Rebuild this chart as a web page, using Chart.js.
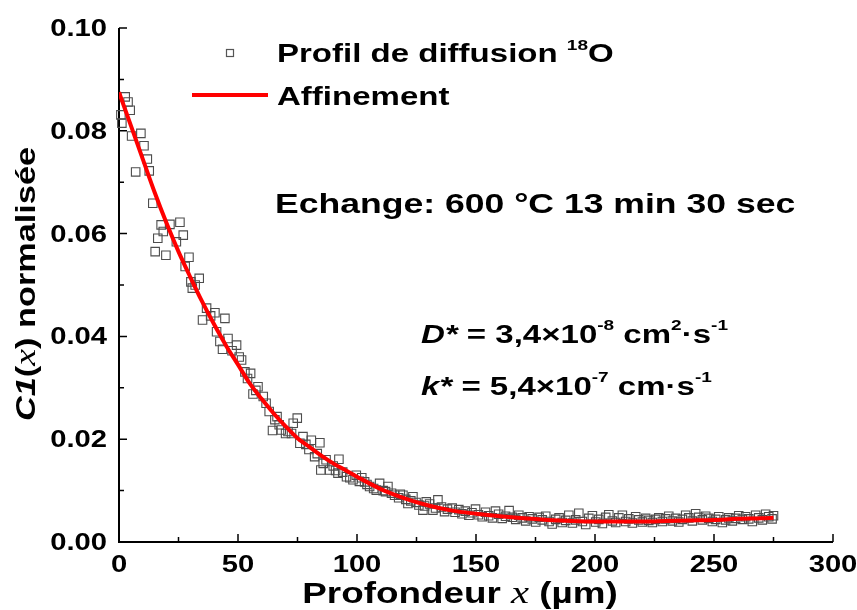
<!DOCTYPE html>
<html>
<head>
<meta charset="utf-8">
<script src="https://cdn.jsdelivr.net/npm/chart.js@4.4.1/dist/chart.umd.min.js"></script>
<style>
  body { margin: 0; background: #fff; }
  canvas { display: block; }
</style>
</head>
<body>
<canvas id="chart" width="857" height="610"></canvas>
<script>
// measured 18O profile (depth in µm, normalised C1)
const depthX = [
  0.8, 1.2, 2.6, 3.8, 4.7, 5.3, 7.0, 9.2, 10.5, 11.9, 12.7, 14.2, 15.2, 16.3, 17.7, 18.6,
  19.7, 21.4, 24.1, 25.6, 27.0, 27.8, 29.4, 30.2, 30.8, 32.0, 33.7, 35.1, 36.8, 38.5, 40.3,
  41.0, 42.4, 43.5, 44.5, 45.8, 47.5, 49.4, 50.5, 51.5, 52.9, 54.0, 55.3, 56.3, 57.5, 58.4,
  60.6, 61.8, 63.1, 64.5, 65.5, 66.4, 67.3, 68.2, 70.0, 71.0, 72.5, 73.2, 74.9, 76.0, 77.3,
  78.5, 79.8, 80.8, 82.2, 83.3, 84.4, 84.8, 85.8, 87.0, 88.5, 90.0, 91.0, 92.0, 92.4, 94.0,
  95.6, 97.0, 98.3, 99.7, 101.0, 102.0, 103.2, 104.2, 105.3, 107.0, 108.1, 109.5, 111.0,
  112.0, 113.0, 114.5, 115.8, 117.5, 118.2, 119.3, 120.5, 121.4, 122.6, 123.5, 124.8, 126.0,
  127.7, 128.4, 129.1, 130.5, 131.9, 133.0, 134.0, 135.5, 136.8, 138.0,
  140.0, 141.2, 142.8, 144.1, 145.5, 147.0, 148.3, 149.8, 151.0, 152.6, 154.0, 155.3, 156.9,
  158.2, 159.5, 161.0, 162.4, 163.9, 165.2, 166.7, 168.0, 169.4, 170.9, 172.3, 173.6, 175.1,
  176.5, 177.8, 179.3, 180.7, 182.0, 183.5, 184.9, 186.2, 187.7, 189.0, 190.5, 191.9, 193.2,
  194.7, 196.1, 197.4, 198.9, 200.3, 201.6, 203.1, 204.5, 205.8, 207.3, 208.7, 210.0, 211.5,
  212.9, 214.2, 215.7, 217.1, 218.4, 219.9, 221.3, 222.6, 224.1, 225.5, 226.8, 228.3, 229.7,
  231.0, 232.5, 233.9, 235.2, 236.7, 238.1, 239.4, 240.9, 242.3, 243.6, 245.1, 246.5, 247.8,
  249.3, 250.7, 252.0, 253.5, 254.9, 256.2, 257.7, 259.1, 260.4, 261.9, 263.3, 264.6, 266.1,
  267.5, 268.8, 270.3, 271.7, 273.0, 274.4, 275.0
];
const conc = [
  0.0831, 0.0815, 0.0866, 0.0856, 0.0840, 0.0790, 0.0720, 0.0795, 0.0771, 0.0745, 0.0722,
  0.0659, 0.0565, 0.0591, 0.0617, 0.0604, 0.0558, 0.0618, 0.0584, 0.0622, 0.0597, 0.0536,
  0.0554, 0.0506, 0.0494, 0.0500, 0.0513, 0.0432, 0.0455, 0.0440, 0.0446, 0.0409, 0.0390,
  0.0375, 0.0435, 0.0396, 0.0372, 0.0383, 0.0360, 0.0354, 0.0331, 0.0318, 0.0328, 0.0288,
  0.0295, 0.0302, 0.0283, 0.0270, 0.0254, 0.0217, 0.0238, 0.0244, 0.0228, 0.0218, 0.0211,
  0.0215, 0.0211, 0.0231, 0.0241, 0.0192, 0.0205, 0.0190, 0.0180, 0.0198, 0.0166, 0.0172,
  0.0193, 0.0140, 0.0153, 0.0160, 0.0140, 0.0148, 0.0139, 0.0134, 0.0161, 0.0136, 0.0127,
  0.0125, 0.0121, 0.0130, 0.0118, 0.0125, 0.0117, 0.0112, 0.0108, 0.0104, 0.0101, 0.0114,
  0.0100, 0.0098, 0.0108, 0.0095, 0.0091, 0.0086, 0.0093, 0.0091, 0.0083, 0.0075, 0.0080,
  0.0088, 0.0077, 0.0072, 0.0062, 0.0070, 0.0078, 0.0074, 0.0062, 0.0066, 0.0082, 0.0068,
  0.0059, 0.0064,
  0.0066, 0.0058, 0.0063, 0.0055, 0.0060, 0.0052, 0.0057, 0.0064, 0.0053, 0.0049, 0.0058,
  0.0051, 0.0047, 0.0060, 0.0054, 0.0046, 0.0050, 0.0061, 0.0048, 0.0044, 0.0052, 0.0047,
  0.0041, 0.0049, 0.0045, 0.0039, 0.0048, 0.0043, 0.0050, 0.0040, 0.0035, 0.0044, 0.0047,
  0.0038, 0.0042, 0.0052, 0.0037, 0.0043, 0.0056, 0.0040, 0.0034, 0.0046, 0.0051, 0.0039,
  0.0044, 0.0036, 0.0048, 0.0053, 0.0041, 0.0038, 0.0047, 0.0052, 0.0040, 0.0045, 0.0037,
  0.0049, 0.0043, 0.0039, 0.0046, 0.0042, 0.0038, 0.0044, 0.0047, 0.0040, 0.0045, 0.0050,
  0.0041, 0.0046, 0.0039, 0.0044, 0.0052, 0.0047, 0.0041, 0.0055, 0.0048, 0.0043, 0.0050,
  0.0046, 0.0040, 0.0044, 0.0049, 0.0038, 0.0043, 0.0047, 0.0041, 0.0046, 0.0051, 0.0044,
  0.0049, 0.0045, 0.0040, 0.0052, 0.0047, 0.0043, 0.0054, 0.0049, 0.0045, 0.0051
];

// fitted curve (Affinement)
const fitX = [0, 5, 10, 15, 20, 25, 30, 35, 40, 45, 50, 55, 60, 65, 70, 75, 80, 85, 90, 95,
  100, 110, 120, 130, 140, 150, 160, 170, 180, 190, 200, 210, 220, 230, 240, 250, 260, 270, 275];
const fitY = [0.0875, 0.0810, 0.0745, 0.0680, 0.0620, 0.0565, 0.0515, 0.0467, 0.0423, 0.0382,
  0.0345, 0.0308, 0.0278, 0.0250, 0.0225, 0.0202, 0.0185, 0.0168, 0.0153, 0.0140,
  0.0127, 0.0103, 0.0085, 0.0071, 0.0061, 0.0055, 0.0050, 0.0046, 0.0043, 0.0041,
  0.0040, 0.0040, 0.0040, 0.0041, 0.0042, 0.0043, 0.0045, 0.0046, 0.0047];

const xTicks = [0, 50, 100, 150, 200, 250, 300];
const yTicks = [0.00, 0.02, 0.04, 0.06, 0.08, 0.10];
const xMinor = [25, 75, 125, 175, 225, 275];
const yMinor = [0.01, 0.03, 0.05, 0.07, 0.09];

const SANS = '"Liberation Sans", Arial, sans-serif';
const SERIF = '"Liberation Serif", "Times New Roman", serif';
const STRETCH = 1.27;

// draws a list of styled text pieces one after another, stretched horizontally
function richText(ctx, x, y, parts, align) {
  ctx.save();
  ctx.translate(x, y);
  ctx.scale(STRETCH, 1);
  let w = 0;
  parts.forEach(p => { ctx.font = p.font; w += ctx.measureText(p.t).width; });
  let cx = 0;
  if (align === 'center') cx = -w / 2;
  if (align === 'right') cx = -w;
  ctx.textBaseline = 'alphabetic';
  ctx.textAlign = 'left';
  parts.forEach(p => {
    ctx.font = p.font;
    ctx.fillStyle = p.color || '#000';
    ctx.fillText(p.t, cx, p.dy || 0);
    cx += ctx.measureText(p.t).width;
  });
  ctx.restore();
}

const axesPlugin = {
  id: 'axesPlugin',
  beforeDatasetsDraw(chart) {
    const ctx = chart.ctx;
    const xs = chart.scales.x, ys = chart.scales.y;
    const a = chart.chartArea;
    ctx.save();
    ctx.strokeStyle = '#000';
    ctx.lineWidth = 2;
    ctx.beginPath();
    ctx.moveTo(a.left, a.top);
    ctx.lineTo(a.left, a.bottom);
    ctx.lineTo(a.right, a.bottom);
    ctx.stroke();
    ctx.lineWidth = 1.5;
    ctx.beginPath();
    xTicks.forEach(v => { const p = xs.getPixelForValue(v); ctx.moveTo(p, a.bottom); ctx.lineTo(p, a.bottom - 8); });
    xMinor.forEach(v => { const p = xs.getPixelForValue(v); ctx.moveTo(p, a.bottom); ctx.lineTo(p, a.bottom - 5); });
    yTicks.forEach(v => { const p = ys.getPixelForValue(v); ctx.moveTo(a.left, p); ctx.lineTo(a.left + 8, p); });
    yMinor.forEach(v => { const p = ys.getPixelForValue(v); ctx.moveTo(a.left, p); ctx.lineTo(a.left + 5, p); });
    ctx.stroke();
    ctx.restore();

    const tickFont = 'bold 23px ' + SANS;
    xTicks.forEach(v => {
      richText(ctx, xs.getPixelForValue(v), a.bottom + 30, [{ t: String(v), font: tickFont }], 'center');
    });
    yTicks.forEach(v => {
      richText(ctx, a.left - 12, ys.getPixelForValue(v) + 8, [{ t: v.toFixed(2), font: tickFont }], 'right');
    });

    // axis titles
    richText(ctx, 460, 603, [
      { t: 'Profondeur ', font: 'bold 29px ' + SANS },
      { t: 'x', font: 'italic 32px ' + SERIF },
      { t: ' (µm)', font: 'bold 29px ' + SANS }
    ], 'center');

    ctx.save();
    ctx.translate(35, 284);
    ctx.rotate(-Math.PI / 2);
    richText(ctx, 0, 0, [
      { t: 'C', font: 'bold italic 27px ' + SANS },
      { t: '1', font: 'bold italic 27px ' + SANS },
      { t: '(', font: 'bold 27px ' + SANS },
      { t: 'x', font: 'italic 30px ' + SERIF },
      { t: ')', font: 'bold 27px ' + SANS },
      { t: ' normalisée', font: 'bold 27px ' + SANS }
    ], 'center');
    ctx.restore();
  },
  afterDraw(chart) {
    const ctx = chart.ctx;
    // legend
    ctx.save();
    ctx.strokeStyle = '#555';
    ctx.lineWidth = 1.2;
    ctx.strokeRect(226.5, 49.5, 7, 7);
    ctx.strokeStyle = '#ff0000';
    ctx.lineWidth = 4;
    ctx.beginPath();
    ctx.moveTo(192, 95);
    ctx.lineTo(268, 95);
    ctx.stroke();
    ctx.restore();
    richText(ctx, 277, 62, [
      { t: 'Profil de diffusion ', font: 'bold 26px ' + SANS },
      { t: '18', font: 'bold 15px ' + SANS, dy: -12 },
      { t: 'O', font: 'bold 26px ' + SANS }
    ]);
    richText(ctx, 277, 105, [{ t: 'Affinement', font: 'bold 26px ' + SANS }]);

    richText(ctx, 275, 213, [{ t: 'Echange: 600 °C 13 min 30 sec', font: 'bold 28px ' + SANS }]);

    const f = 'bold 26px ' + SANS, fi = 'bold italic 26px ' + SANS, fs = 'bold 15px ' + SANS;
    richText(ctx, 421, 343, [
      { t: 'D*', font: fi }, { t: ' = 3,4×10', font: f }, { t: '-8', font: fs, dy: -13 },
      { t: ' cm', font: f }, { t: '2', font: fs, dy: -13 }, { t: '·s', font: f }, { t: '-1', font: fs, dy: -13 }
    ]);
    richText(ctx, 421, 395, [
      { t: 'k*', font: fi }, { t: ' = 5,4×10', font: f }, { t: '-7', font: fs, dy: -13 },
      { t: ' cm·s', font: f }, { t: '-1', font: fs, dy: -13 }
    ]);
  }
};

new Chart(document.getElementById('chart'), {
  type: 'scatter',
  data: {
    datasets: [
      {
        label: 'Affinement',
        type: 'line',
        data: fitX.map((x, i) => ({ x: x, y: fitY[i] })),
        borderColor: '#ff0000',
        borderWidth: 4,
        pointRadius: 0,
        cubicInterpolationMode: 'monotone',
        fill: false,
        order: 0
      },
      {
        label: 'Profil de diffusion 18O',
        data: depthX.map((x, i) => ({ x: x, y: conc[i] })),
        pointStyle: 'rect',
        pointRadius: 6,
        borderColor: '#4d4d4d',
        borderWidth: 1.1,
        backgroundColor: 'rgba(0,0,0,0)',
        clip: false,
        order: 1
      }
    ]
  },
  options: {
    responsive: false,
    animation: false,
    devicePixelRatio: 1,
    layout: { padding: { left: 119, right: 24, top: 28, bottom: 68 } },
    scales: {
      x: { type: 'linear', min: 0, max: 300, display: false },
      y: { type: 'linear', min: 0, max: 0.1, display: false }
    },
    plugins: {
      legend: { display: false },
      tooltip: { enabled: false }
    }
  },
  plugins: [axesPlugin]
});
</script>
</body>
</html>
